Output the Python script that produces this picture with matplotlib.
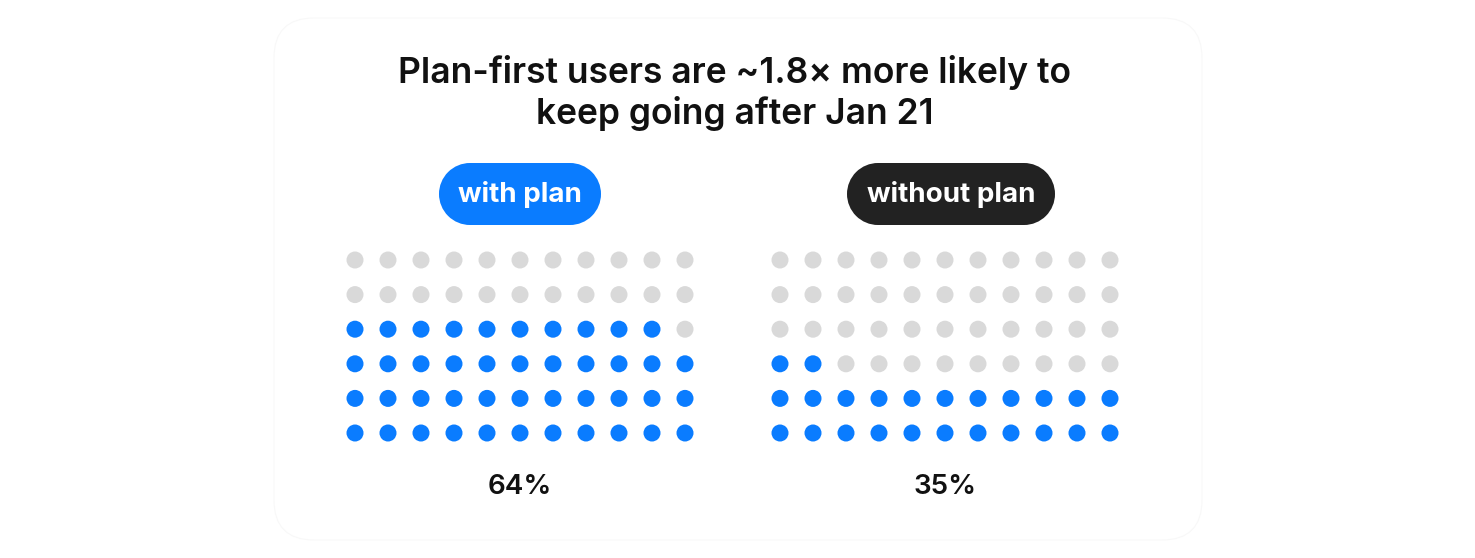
import matplotlib.pyplot as plt
from matplotlib.patches import FancyBboxPatch, Rectangle, Circle

plt.rcParams['font.family'] = ['Inter', 'DejaVu Sans']

title = "Plan-first users are ~1.8\u00d7 more likely to\nkeep going after Jan 21"
groups = ["with plan", "without plan"]
percents = [64, 35]
filled_dots = [43, 24]
n_cols = 11
n_rows = 6
pill_colors = ["#0A7CFF", "#222222"]
dot_on = "#0A7CFF"
dot_off = "#D9D9D9"

fig = plt.figure(figsize=(14.75, 5.58), dpi=100)
ax = fig.add_axes([0, 0, 1, 1])
ax.set_xlim(0, 1475)
ax.set_ylim(558, 0)
ax.axis("off")

# faint card
card = FancyBboxPatch((274, 18), 928, 522, boxstyle="round,pad=0,rounding_size=40",
                      facecolor="white", edgecolor="#F8F8F8", linewidth=0.8)
ax.add_patch(card)

ax.text(735, 93, title, ha="center", va="center", fontsize=25.5,
        fontweight="semibold", linespacing=1.2, color="#111111")

grid_left = [355, 780]
col_step = 33
row_top = 260
row_step = 34.6
pill_centers = [520, 951]
pill_widths = [162, 208]
pill_h = 62
pill_y = 194

for g in range(2):
    xs, ys, cs = [], [], []
    for i in range(n_cols * n_rows):
        r = i // n_cols  # from bottom
        c = i % n_cols
        xs.append(grid_left[g] + c * col_step)
        ys.append(row_top + (n_rows - 1 - r) * row_step)
        cs.append(dot_on if i < filled_dots[g] else dot_off)
    ax.scatter(xs, ys, s=150, c=cs, linewidths=0, zorder=3)

    # pill = rectangle + two half circles
    w = pill_widths[g]
    rad = pill_h / 2
    x0 = pill_centers[g] - w / 2 + rad
    x1 = pill_centers[g] + w / 2 - rad
    ax.add_patch(Rectangle((x0, pill_y - rad), x1 - x0, pill_h,
                           facecolor=pill_colors[g], edgecolor="none", zorder=2))
    for xc in (x0, x1):
        ax.add_patch(Circle((xc, pill_y), rad, facecolor=pill_colors[g],
                            edgecolor="none", zorder=2))
    ax.text(pill_centers[g], pill_y + 1, groups[g], ha="center", va="center",
            fontsize=20, fontweight="bold", color="white", zorder=4)

    center = grid_left[g] + (n_cols - 1) * col_step / 2
    ax.text(center, 487, f"{percents[g]}%", ha="center", va="center",
            fontsize=20, fontweight="semibold", color="#111111")

fig.savefig("out.png", dpi=100)
